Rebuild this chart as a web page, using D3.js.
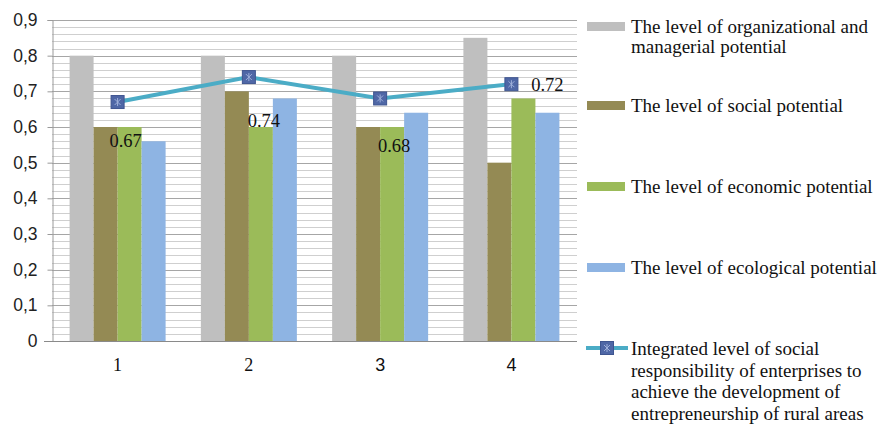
<!DOCTYPE html>
<html><head><meta charset="utf-8">
<script src="https://cdn.jsdelivr.net/npm/d3@7"></script>
<style>html,body{margin:0;padding:0;background:#fff;}svg{display:block;}</style>
</head><body>
<svg id="chart" width="883" height="424"></svg>
<script>
// ---- data ----
const categories = ["1", "2", "3", "4"];
const seriesNames = [
  "The level of organizational and managerial potential",
  "The level of social potential",
  "The level of economic potential",
  "The level of ecological potential"
];
const organizational = [0.80, 0.80, 0.80, 0.85];
const social = [0.60, 0.70, 0.60, 0.50];
const economic = [0.60, 0.60, 0.60, 0.68];
const ecological = [0.56, 0.68, 0.64, 0.64];
const integrated = [0.67, 0.74, 0.68, 0.72];
const integratedName = "Integrated level of social responsibility of enterprises to achieve the development of entrepreneurship of rural areas";
const yTicks = [0, 0.1, 0.2, 0.3, 0.4, 0.5, 0.6, 0.7, 0.8, 0.9];
const yTickLabels = ["0", "0,1", "0,2", "0,3", "0,4", "0,5", "0,6", "0,7", "0,8", "0,9"];
const dataLabels = ["0.67", "0.74", "0.68", "0.72"];
const legendLines = [
  ["The level of organizational and", "managerial potential"],
  ["The level of social potential"],
  ["The level of economic potential"],
  ["The level of ecological potential"],
  ["Integrated level of social", "responsibility of enterprises to", "achieve the development of", "entrepreneurship of rural areas"]
];

// ---- layout / style ----
const colors = ["#bfbfbf", "#948a54", "#9bbb59", "#8eb4e3"];
const lineColor = "#4bacc6";
const serif = "'Liberation Serif','Times New Roman',serif";
const sans = "'Liberation Sans',Arial,sans-serif";
const L = 52, R = 577, T = 20, B = 341;

const svg = d3.select("#chart");
const x = d3.scaleBand().domain(categories).range([L, R]).paddingInner(0.2686).paddingOuter(0.134);
const xs = d3.scaleBand().domain(d3.range(4)).range([0, x.bandwidth()]);
const y = d3.scaleLinear().domain([0, 0.9]).range([B, T]);

// minor gridlines
const minor = d3.range(0, 0.9001, 0.02).filter(v => Math.abs(Math.round(v * 10) - v * 10) > 1e-6);
svg.append("g").selectAll("line").data(minor).join("line")
  .attr("x1", L).attr("x2", R)
  .attr("y1", d => Math.round(y(d)) + 0.5).attr("y2", d => Math.round(y(d)) + 0.5)
  .attr("stroke", "#cfcfcf").attr("stroke-width", 1);
// major gridlines
svg.append("g").selectAll("line").data(yTicks.slice(1)).join("line")
  .attr("x1", L).attr("x2", R)
  .attr("y1", d => Math.round(y(d)) + 0.5).attr("y2", d => Math.round(y(d)) + 0.5)
  .attr("stroke", "#a6a6a6").attr("stroke-width", 1);

// bars
const allSeries = [organizational, social, economic, ecological];
allSeries.forEach((vals, si) => {
  svg.append("g").selectAll("rect").data(vals).join("rect")
    .attr("x", (d, i) => x(categories[i]) + xs(si))
    .attr("width", xs.bandwidth())
    .attr("y", d => y(d))
    .attr("height", d => y(0) - y(d))
    .attr("fill", colors[si]);
});

// y axis
const yAxis = d3.axisLeft(y).tickValues(yTicks).tickFormat((d, i) => yTickLabels[i]).tickSize(5).tickPadding(10);
const ya = svg.append("g").attr("transform", `translate(${L + 0.5},0)`).call(yAxis);
ya.select(".domain").attr("stroke", "#9a9a9a");
ya.selectAll(".tick line").attr("stroke", "#9a9a9a");
ya.selectAll(".tick text").attr("font-family", sans).attr("font-size", 17.5).attr("fill", "#222");

// x axis
const xAxis = d3.axisBottom(x).tickSize(0).tickPadding(17);
const xa = svg.append("g").attr("transform", `translate(0,${B + 0.5})`).call(xAxis);
xa.select(".domain").attr("stroke", "#8a8a8a").attr("d", `M${L - 8},0H${R}`);
xa.selectAll(".tick text").attr("font-family", (d, i) => i < 2 ? serif : sans).attr("font-size", 18).attr("fill", "#111");

// line
const cx = c => x(c) + x.bandwidth() / 2;
const line = d3.line().x((d, i) => cx(categories[i])).y(d => y(d));
svg.append("path").datum(integrated).attr("d", line)
  .attr("fill", "none").attr("stroke", lineColor).attr("stroke-width", 4);

function marker(g, px, py) {
  const s = 13;
  g.append("rect").attr("x", px - s / 2).attr("y", py - s / 2).attr("width", s).attr("height", s)
    .attr("fill", "#4f67a6").attr("stroke", "#3f5590").attr("stroke-width", 1);
  g.append("path").attr("d", `M${px - 3},${py - 3}L${px + 3},${py + 3}M${px + 3},${py - 3}L${px - 3},${py + 3}M${px},${py - 4}V${py + 4}`)
    .attr("stroke", "#9fb0da").attr("stroke-width", 1);
}
integrated.forEach((v, i) => marker(svg.append("g"), cx(categories[i]), y(v)));

// data labels
const labelOffsets = [[8, 45], [15, 50], [14, 54], [36, 7]];
svg.append("g").selectAll("text").data(integrated).join("text")
  .attr("x", (d, i) => cx(categories[i]) + labelOffsets[i][0])
  .attr("y", (d, i) => y(d) + labelOffsets[i][1])
  .attr("text-anchor", "middle")
  .attr("font-family", serif).attr("font-size", 18.5).attr("fill", "#111")
  .text((d, i) => dataLabels[i]);

// legend
const legendY = [27, 106, 187, 268, 349];
const lineGap = [20, 20, 20, 20, 21.6];
const lg = svg.append("g");
legendLines.forEach((lines, i) => {
  const cyv = legendY[i];
  if (i < 4) {
    lg.append("rect").attr("x", 587).attr("y", cyv - 5).attr("width", 38).attr("height", 9).attr("fill", colors[i]);
  } else {
    lg.append("line").attr("x1", 586).attr("x2", 628).attr("y1", cyv - 1).attr("y2", cyv - 1)
      .attr("stroke", lineColor).attr("stroke-width", 4);
    marker(lg, 607, cyv - 1);
  }
  const t = lg.append("text").attr("font-family", serif).attr("font-size", 19).attr("fill", "#111");
  lines.forEach((ln, j) => {
    t.append("tspan").attr("x", 631).attr("y", cyv + 6 + j * lineGap[i]).text(ln);
  });
});
</script>
</body></html>
